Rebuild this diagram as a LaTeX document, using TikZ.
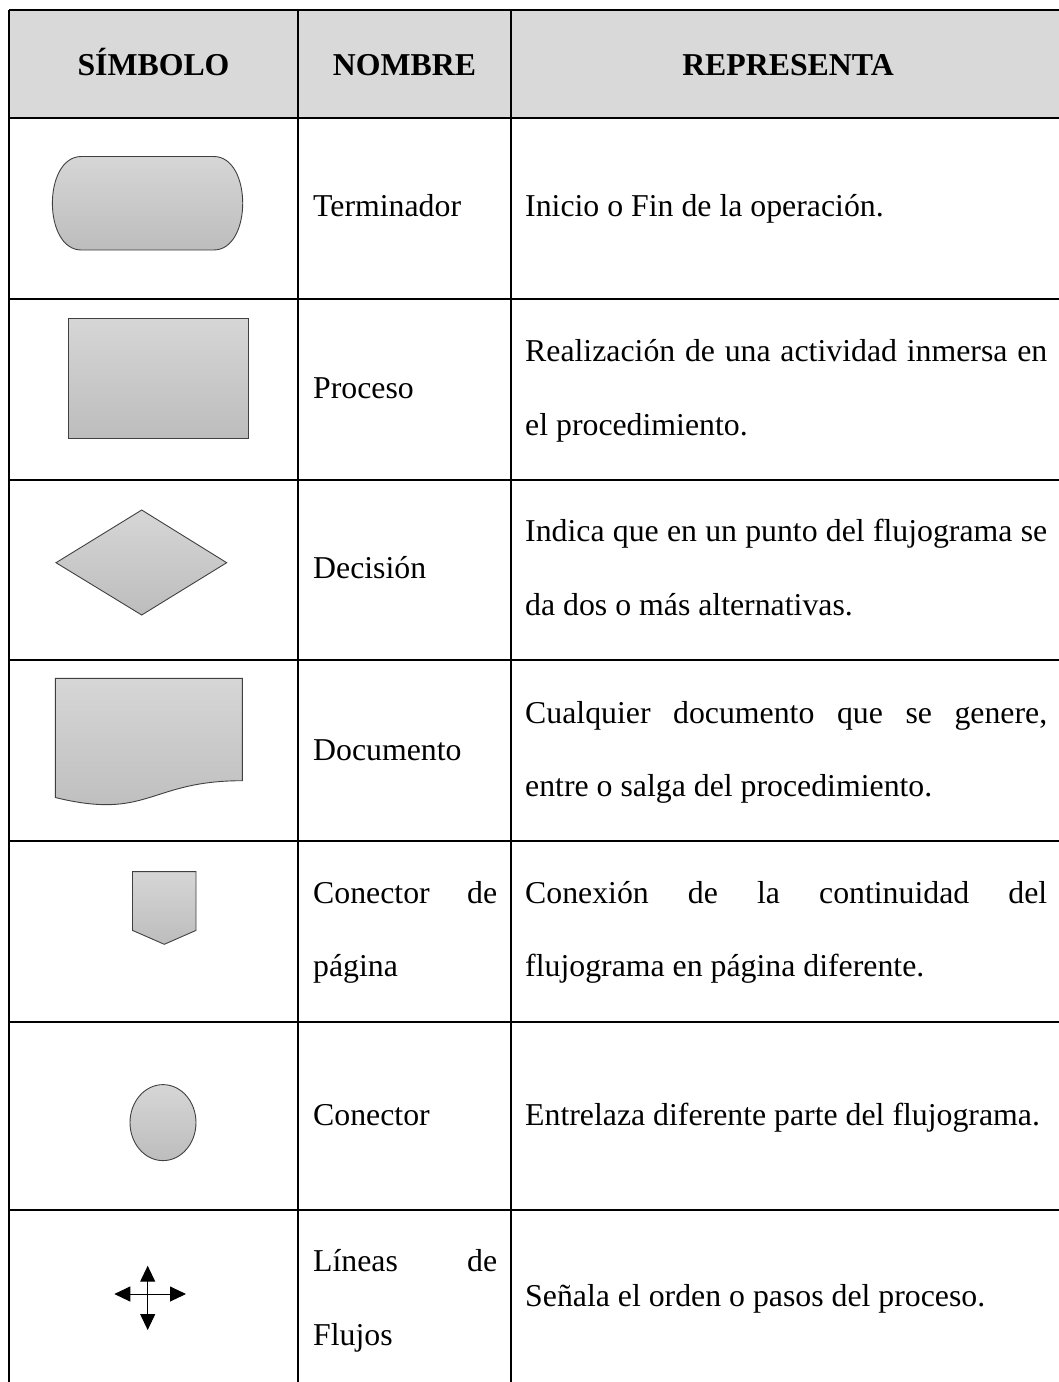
\documentclass[tikz,border=0pt]{standalone}
\usepackage{fontspec}
\setmainfont{Liberation Serif}
\usetikzlibrary{arrows.meta}
\begin{document}
\begin{tikzpicture}[x=1pt,y=-1pt,
  txt/.style={inner sep=0pt, anchor=base west, font=\fontsize{31.8pt}{38pt}\selectfont},
  hdr/.style={inner sep=0pt, anchor=base, font=\fontsize{31.8pt}{38pt}\selectfont\bfseries},
  grid/.style={line width=1.3pt, black},
  sym/.style={draw=black!75, line width=0.9pt, top color=black!16, bottom color=black!26},
  flow/.style={line width=1pt, black, -{Triangle[length=16pt,width=15pt]}}]
\useasboundingbox (0,0) rectangle (1059,1382);
\clip (0,0) rectangle (1059,1382);
% header band
\fill[black!15] (9,10) rectangle (1070,118);
% grid
\foreach \yy in {10,118,299,480,660,841,1022,1210}{\draw[grid] (9,\yy) -- (1070,\yy);}
\foreach \xx in {9,298,511}{\draw[grid] (\xx,10) -- (\xx,1400);}
% header texts
\node[hdr] (hsim) at (153.5,75) {SÍMBOLO};
\node[hdr] (hnom) at (404.5,75) {NOMBRE};
\node[hdr] (hrep) at (788,75) {REPRESENTA};
% row 1: terminator
\draw[sym] (81.4,156.5) -- (213.7,156.5) .. controls (252.4,156.5) and (252.4,250) .. (213.7,250) -- (81.4,250) .. controls (42.7,250) and (42.7,156.5) .. (81.4,156.5) -- cycle;
\node[txt] (n1) at (313,216.7) {Terminador};
\node[txt] (d1) at (525,216.7) {Inicio o Fin de la operación.};
% row 2: process
\draw[sym] (68,318.3) rectangle (248.3,438.3);
\node[txt] (n2) at (313,398.3) {Proceso};
\node[txt] (d2a) at (525,361.7) {\makebox[522pt][s]{Realización de una actividad inmersa en}};
\node[txt] (d2b) at (525,435) {el procedimiento.};
% row 3: decision
\draw[sym] (56,562.7) -- (141.7,510) -- (226.7,562.7) -- (141.7,615) -- cycle;
\node[txt] (n3) at (313,578.3) {Decisión};
\node[txt] (d3a) at (525,541.7) {\makebox[522pt][s]{Indica que en un punto del flujograma se}};
\node[txt] (d3b) at (525,615) {da dos o más alternativas.};
% row 4: document
\draw[sym] (55.3,678.3) -- (242.3,678.3) -- (242.3,780.7) .. controls (148.8,780.7) and (148.8,820.5) .. (55.3,797.5) -- cycle;
\node[txt] (n4) at (313,760) {Documento};
\node[txt] (d4a) at (525,723.3) {\makebox[522pt][s]{Cualquier documento que se genere,}};
\node[txt] (d4b) at (525,796.7) {entre o salga del procedimiento.};
% row 5: off-page connector
\draw[sym] (132.5,871.6) -- (196,871.6) -- (196,930.4) -- (164.3,944.3) -- (132.5,930.4) -- cycle;
\node[txt] (n5a) at (313,903.3) {\makebox[184pt][s]{Conector de}};
\node[txt] (n5b) at (313,976) {página};
\node[txt] (d5a) at (525,903.3) {\makebox[522pt][s]{Conexión de la continuidad del}};
\node[txt] (d5b) at (525,976) {flujograma en página diferente.};
% row 6: connector
\draw[sym] (163,1122.6) ellipse [x radius=33, y radius=38];
\node[txt] (n6) at (313,1125) {Conector};
\node[txt] (d6) at (525,1125) {Entrelaza diferente parte del flujograma.};
% row 7: flow lines
\coordinate (fc) at (147.7,1294);
\coordinate (fl) at (114.3,1294);
\coordinate (fr) at (186,1294);
\coordinate (ft) at (147.7,1265.7);
\coordinate (fb) at (147.7,1330);
\draw[flow] (fc) -- (fl);
\draw[flow] (fc) -- (fr);
\draw[flow] (fc) -- (ft);
\draw[flow] (fc) -- (fb);
\node[txt] (n7a) at (313,1271) {\makebox[184pt][s]{Líneas de}};
\node[txt] (n7b) at (313,1345) {Flujos};
\node[txt] (d7) at (525,1306.7) {Señala el orden o pasos del proceso.};
\end{tikzpicture}
\end{document}
